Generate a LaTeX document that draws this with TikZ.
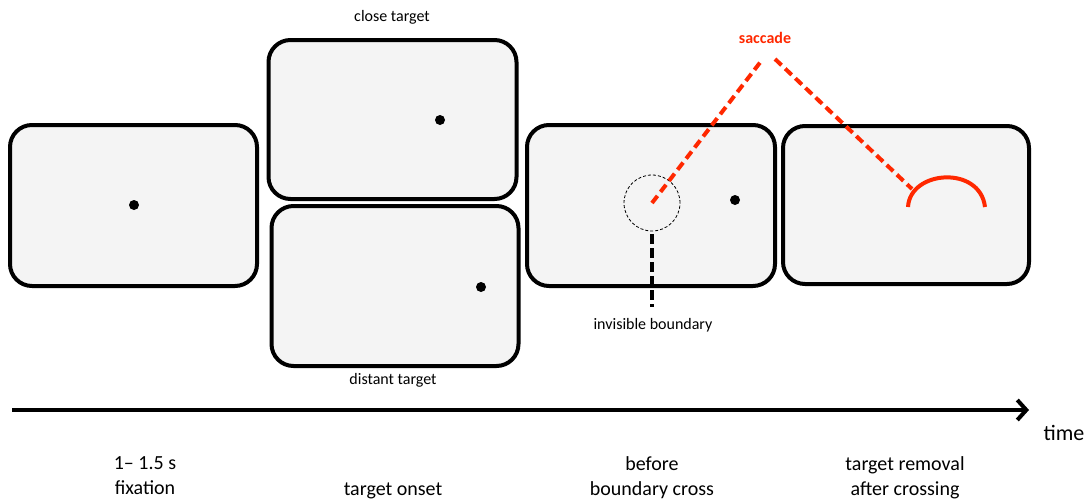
\documentclass[tikz,border=0pt]{standalone}
\usepackage{fontspec}
\setmainfont{Carlito}
\usetikzlibrary{arrows.meta}
\definecolor{screengray}{RGB}{244,244,244}
\definecolor{saccred}{RGB}{255,40,0}
\tikzset{
  screen/.style={draw, line width=4pt, rounded corners=22pt, fill=screengray, inner sep=0pt},
  target/.style={circle, fill=black, inner sep=0pt, minimum size=10pt},
  saccline/.style={saccred, line width=4pt, dash pattern=on 9pt off 5pt},
  phase/.style={font=\fontsize{20}{25}\selectfont, align=center, anchor=north},
}

\begin{document}
\begin{tikzpicture}[x=1pt, y=-1pt, every node/.style={font=\fontsize{16}{19}\selectfont}]
    \useasboundingbox (0,0) rectangle (1092,501);
    % screens
    \node[screen, minimum width=247pt, minimum height=161pt] (fix)     at (133.5,205.5) {};
    \node[screen, minimum width=248pt, minimum height=159pt] (close)   at (392.5,119.5) {};
    \node[screen, minimum width=247pt, minimum height=160pt] (distant) at (395,286)     {};
    \node[screen, minimum width=248pt, minimum height=161pt] (cross)   at (651,205.5)   {};
    \node[screen, minimum width=246pt, minimum height=158pt] (removal) at (906,205)     {};
    % targets
    \node[target] (fixdot)     at (134,205) {};
    \node[target] (closedot)   at (440,120) {};
    \node[target] (distantdot) at (481,287) {};
    \node[target] (crossdot)   at (735,200) {};
    % invisible boundary
    \node[circle, draw, line width=0.8pt, dash pattern=on 3pt off 2pt, minimum size=56pt, inner sep=0pt] (boundary) at (652,203) {};
    \coordinate (gaze) at (652,203);
    \coordinate (pointer) at (652,307);
    \draw[line width=4pt, dash pattern=on 10pt off 4pt] ([yshift=-3pt]boundary.south) -- (pointer);
    \node (boundarylabel) at (653,325) {invisible boundary};
    % saccade
    \coordinate (peakL) at (762,60);
    \coordinate (peakR) at (775,59);
    \coordinate (land)  at (912,189);
    \draw[saccline] (gaze) -- (peakL);
    \draw[saccline] (peakR) -- (land);
    \draw[saccred, line width=4pt] (908,207) .. controls (910,170) and (980,165) .. (985,207);
    \node[saccred, font=\fontsize{16}{19}\selectfont\bfseries] (saccade) at (765,38) {saccade};
    % conditions
    \node (closelabel)   at (392,17)  {close target};
    \node (distantlabel) at (393,380) {distant target};
    % time line
    \coordinate (t0) at (12,410);
    \coordinate (t1) at (1029,410);
    \draw[line width=4pt, -{Straight Barb[length=9pt,width=20pt]}] (t0) -- (t1);
    \node[font=\fontsize{22}{26}\selectfont] (time) at (1064,433) {time};
    \node[phase] (p1) at (145,453) {1-- 1.5 s\\fixation};
    \node[phase] (p2) at (393,479) {target onset};
    \node[phase] (p3) at (652,453) {before\\boundary cross};
    \node[phase] (p4) at (905,453) {target removal\\after crossing};
\end{tikzpicture}
\end{document}
